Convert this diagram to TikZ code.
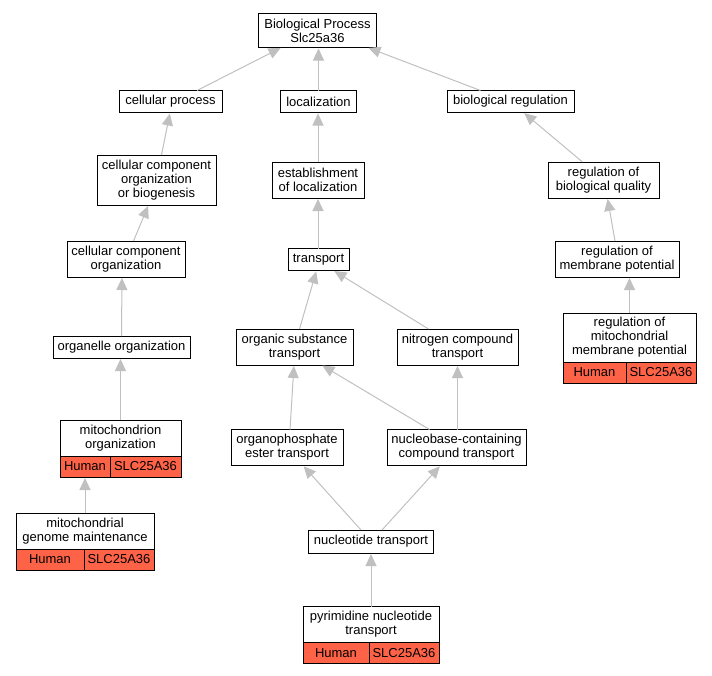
\documentclass[tikz,border=0pt]{standalone}
\usepackage{fontspec}
\setmainfont{Liberation Sans}
\usetikzlibrary{arrows.meta}
\definecolor{edgec}{HTML}{C0C0C0}
\definecolor{redc}{HTML}{FF6347}
\begin{document}
\begin{tikzpicture}[x=1pt,y=-1pt,
  box/.style={draw=black, line width=1pt, fill=white, inner sep=0pt, outer sep=0pt, align=center,
    font=\fontsize{13}{14}\selectfont, text=black},
  gene/.style={box, fill=redc, minimum height=21pt, anchor=north west},
  edge/.style={draw=edgec, line width=1pt, -{Triangle[length=12pt,width=11pt]}, shorten >=1pt}]
\useasboundingbox (0,0) rectangle (712,675);
% row 1
\node[box, minimum width=118pt, minimum height=34pt] (bp) at (317.5,30.5) {Biological Process\\Slc25a36};
% row 2
\node[box, minimum width=103pt, minimum height=22pt] (cp) at (170.5,101.5) {cellular process};
\node[box, minimum width=76pt, minimum height=22pt] (loc) at (318.5,101.5) {localization};
\node[box, minimum width=127pt, minimum height=22pt] (br) at (510.5,101.5) {biological regulation};
% row 3
\node[box, minimum width=119pt, minimum height=50pt] (ccob) at (156.5,180) {cellular component\\organization\\or biogenesis};
\node[box, minimum width=92pt, minimum height=36pt] (est) at (318,180) {establishment\\of localization};
\node[box, minimum width=111pt, minimum height=36pt] (rbq) at (603.5,180) {regulation of\\biological quality};
% row 4
\node[box, minimum width=118pt, minimum height=36pt] (cco) at (126,259) {cellular component\\organization};
\node[box, minimum width=61pt, minimum height=22pt] (tr) at (318.5,259.5) {transport};
\node[box, minimum width=124pt, minimum height=36pt] (rmp) at (617,259) {regulation of\\membrane potential};
% row 5
\node[box, minimum width=137pt, minimum height=22pt] (oo) at (121.5,347) {organelle organization};
\node[box, minimum width=117pt, minimum height=36pt] (ost) at (294.5,347) {organic substance\\transport};
\node[box, minimum width=121pt, minimum height=36pt] (nct) at (457.5,347) {nitrogen compound\\transport};
\node[box, minimum width=133pt, minimum height=49pt] (rmmp) at (629.5,337.5) {regulation of\\mitochondrial\\membrane potential};
\node[gene, minimum width=63pt] (rmmp-h) at (rmmp.south west) {Human};
\node[gene, minimum width=70pt] (rmmp-g) at (rmmp-h.north east) {SLC25A36};
% row 6
\node[box, minimum width=121pt, minimum height=36pt] (mo) at (120.5,438) {mitochondrion\\organization};
\node[gene, minimum width=50pt] (mo-h) at (mo.south west) {Human};
\node[gene, minimum width=71pt] (mo-g) at (mo-h.north east) {SLC25A36};
\node[box, minimum width=112pt, minimum height=36pt] (opet) at (287,447.5) {organophosphate\\ester transport};
\node[box, minimum width=139pt, minimum height=36pt] (ncct) at (456.5,447.5) {nucleobase-containing\\compound transport};
% row 7
\node[box, minimum width=138pt, minimum height=36pt] (mgm) at (85,531) {mitochondrial\\genome maintenance};
\node[gene, minimum width=68pt] (mgm-h) at (mgm.south west) {Human};
\node[gene, minimum width=70pt] (mgm-g) at (mgm-h.north east) {SLC25A36};
\node[box, minimum width=125pt, minimum height=23pt] (nt) at (371,541.5) {nucleotide transport};
% row 8
\node[box, minimum width=136pt, minimum height=36pt] (pnt) at (371,624.5) {pyrimidine nucleotide\\transport};
\node[gene, minimum width=66pt] (pnt-h) at (pnt.south west) {Human};
\node[gene, minimum width=70pt] (pnt-g) at (pnt-h.north east) {SLC25A36};
% edges
\draw[edge] ([xshift=26.5pt]cp.north) -- ([xshift=-36pt]bp.south);
\draw[edge] (loc.north) -- ([xshift=1pt]bp.south);
\draw[edge] ([xshift=-30pt]br.north) -- ([xshift=50pt]bp.south);
\draw[edge] ([xshift=5pt]ccob.north) -- ([xshift=-0.5pt]cp.south);
\draw[edge] (est.north) -- (loc.south -| est.north);
\draw[edge] ([xshift=-21pt]rbq.north) -- ([xshift=13pt]br.south);
\draw[edge] ([xshift=7.5pt]cco.north) -- ([xshift=-8pt]ccob.south);
\draw[edge] (tr.north -| est.south) -- (est.south);
\draw[edge] ([xshift=-2pt]rmp.north) -- ([xshift=4pt]rbq.south);
\draw[edge] (oo.north) -- ([xshift=-4pt]cco.south);
\draw[edge] ([xshift=5pt]ost.north) -- ([xshift=-2pt]tr.south);
\draw[edge] ([xshift=-29pt]nct.north) -- ([xshift=15pt]tr.south);
\draw[edge] (rmmp.north) -- ([xshift=12.5pt]rmp.south);
\draw[edge] (mo.north) -- (oo.south -| mo.north);
\draw[edge] ([xshift=3pt]opet.north) -- ([xshift=-0.5pt]ost.south);
\draw[edge] ([xshift=-27pt]ncct.north) -- ([xshift=27pt]ost.south);
\draw[edge] (ncct.north -| nct.south) -- (nct.south);
\draw[edge] (mgm.north) -- (mo-h.south east -| mgm.north);
\draw[edge] ([xshift=-10pt]nt.north) -- ([xshift=16pt]opet.south);
\draw[edge] ([xshift=11pt]nt.north) -- ([xshift=-16pt]ncct.south);
\draw[edge] (pnt.north) -- (nt.south -| pnt.north);
\end{tikzpicture}
\end{document}
